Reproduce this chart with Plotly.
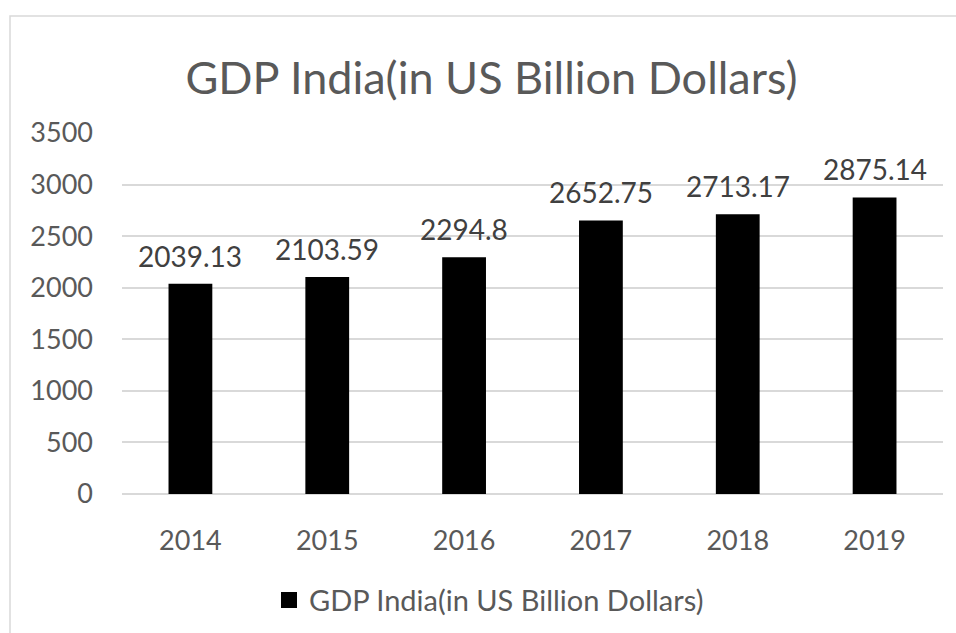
import plotly.graph_objects as go

years = ["2014", "2015", "2016", "2017", "2018", "2019"]
gdp = [2039.13, 2103.59, 2294.8, 2652.75, 2713.17, 2875.14]
labels = ["2039.13", "2103.59", "2294.8", "2652.75", "2713.17", "2875.14"]
series_name = "GDP India(in US Billion Dollars)"
y_ticks = [0, 500, 1000, 1500, 2000, 2500, 3000, 3500]

FONT = "Lato"
GRAY = "#595959"

fig = go.Figure()
fig.add_trace(go.Bar(
    x=years, y=gdp, name=series_name, showlegend=False,
    marker=dict(color="black", line=dict(width=0)),
    width=0.32,
))
# legend swatch
fig.add_trace(go.Scatter(
    x=[years[0]], y=[None], mode="markers", name=series_name,
    marker=dict(symbol="square", size=18, color="black"),
))

# data labels (x given as category index)
for i, (val, lab) in enumerate(zip(gdp, labels)):
    fig.add_annotation(x=i, y=val, text=lab, showarrow=False, yanchor="middle", yshift=28,
                       font=dict(family=FONT, size=28, color="#404040"))

fig.update_layout(
    width=956, height=633,
    margin=dict(l=122, r=13, t=133, b=139, autoexpand=False),
    paper_bgcolor="white", plot_bgcolor="white",
    title=dict(text=series_name, x=(183 + 800) / 2 / 956, xanchor="center", y=1 - 78 / 633, yanchor="middle",
               font=dict(family=FONT, size=45, color=GRAY)),
    font=dict(family=FONT, color=GRAY),
    showlegend=True,
    legend=dict(orientation="h", x=(269 - 122) / 821, xanchor="left", y=-0.294, yanchor="middle",
                font=dict(family=FONT, size=29, color=GRAY)),
    xaxis=dict(type="category", categoryorder="array", categoryarray=years, range=[-0.5, len(years) - 0.5],
               showgrid=False, showline=False, ticks="", tickfont=dict(family=FONT, size=27, color=GRAY),
               ticklabelstandoff=28),
    yaxis=dict(range=[0, 3500], tickvals=y_ticks, showgrid=True, gridcolor="#d9d9d9", gridwidth=1.5,
               zeroline=True, zerolinecolor="#d9d9d9", zerolinewidth=1.5, showline=False, ticks="",
               tickfont=dict(family=FONT, size=27, color=GRAY), ticklabelstandoff=28),
    shapes=[dict(type="rect", xref="paper", yref="paper",
                 x0=(10 - 122) / 821, x1=1.2, y0=-0.6, y1=(494 - 16) / 361,
                 line=dict(color="#d9d9d9", width=1.5), fillcolor="rgba(0,0,0,0)", layer="below")],
)

fig.write_html("out.html")
